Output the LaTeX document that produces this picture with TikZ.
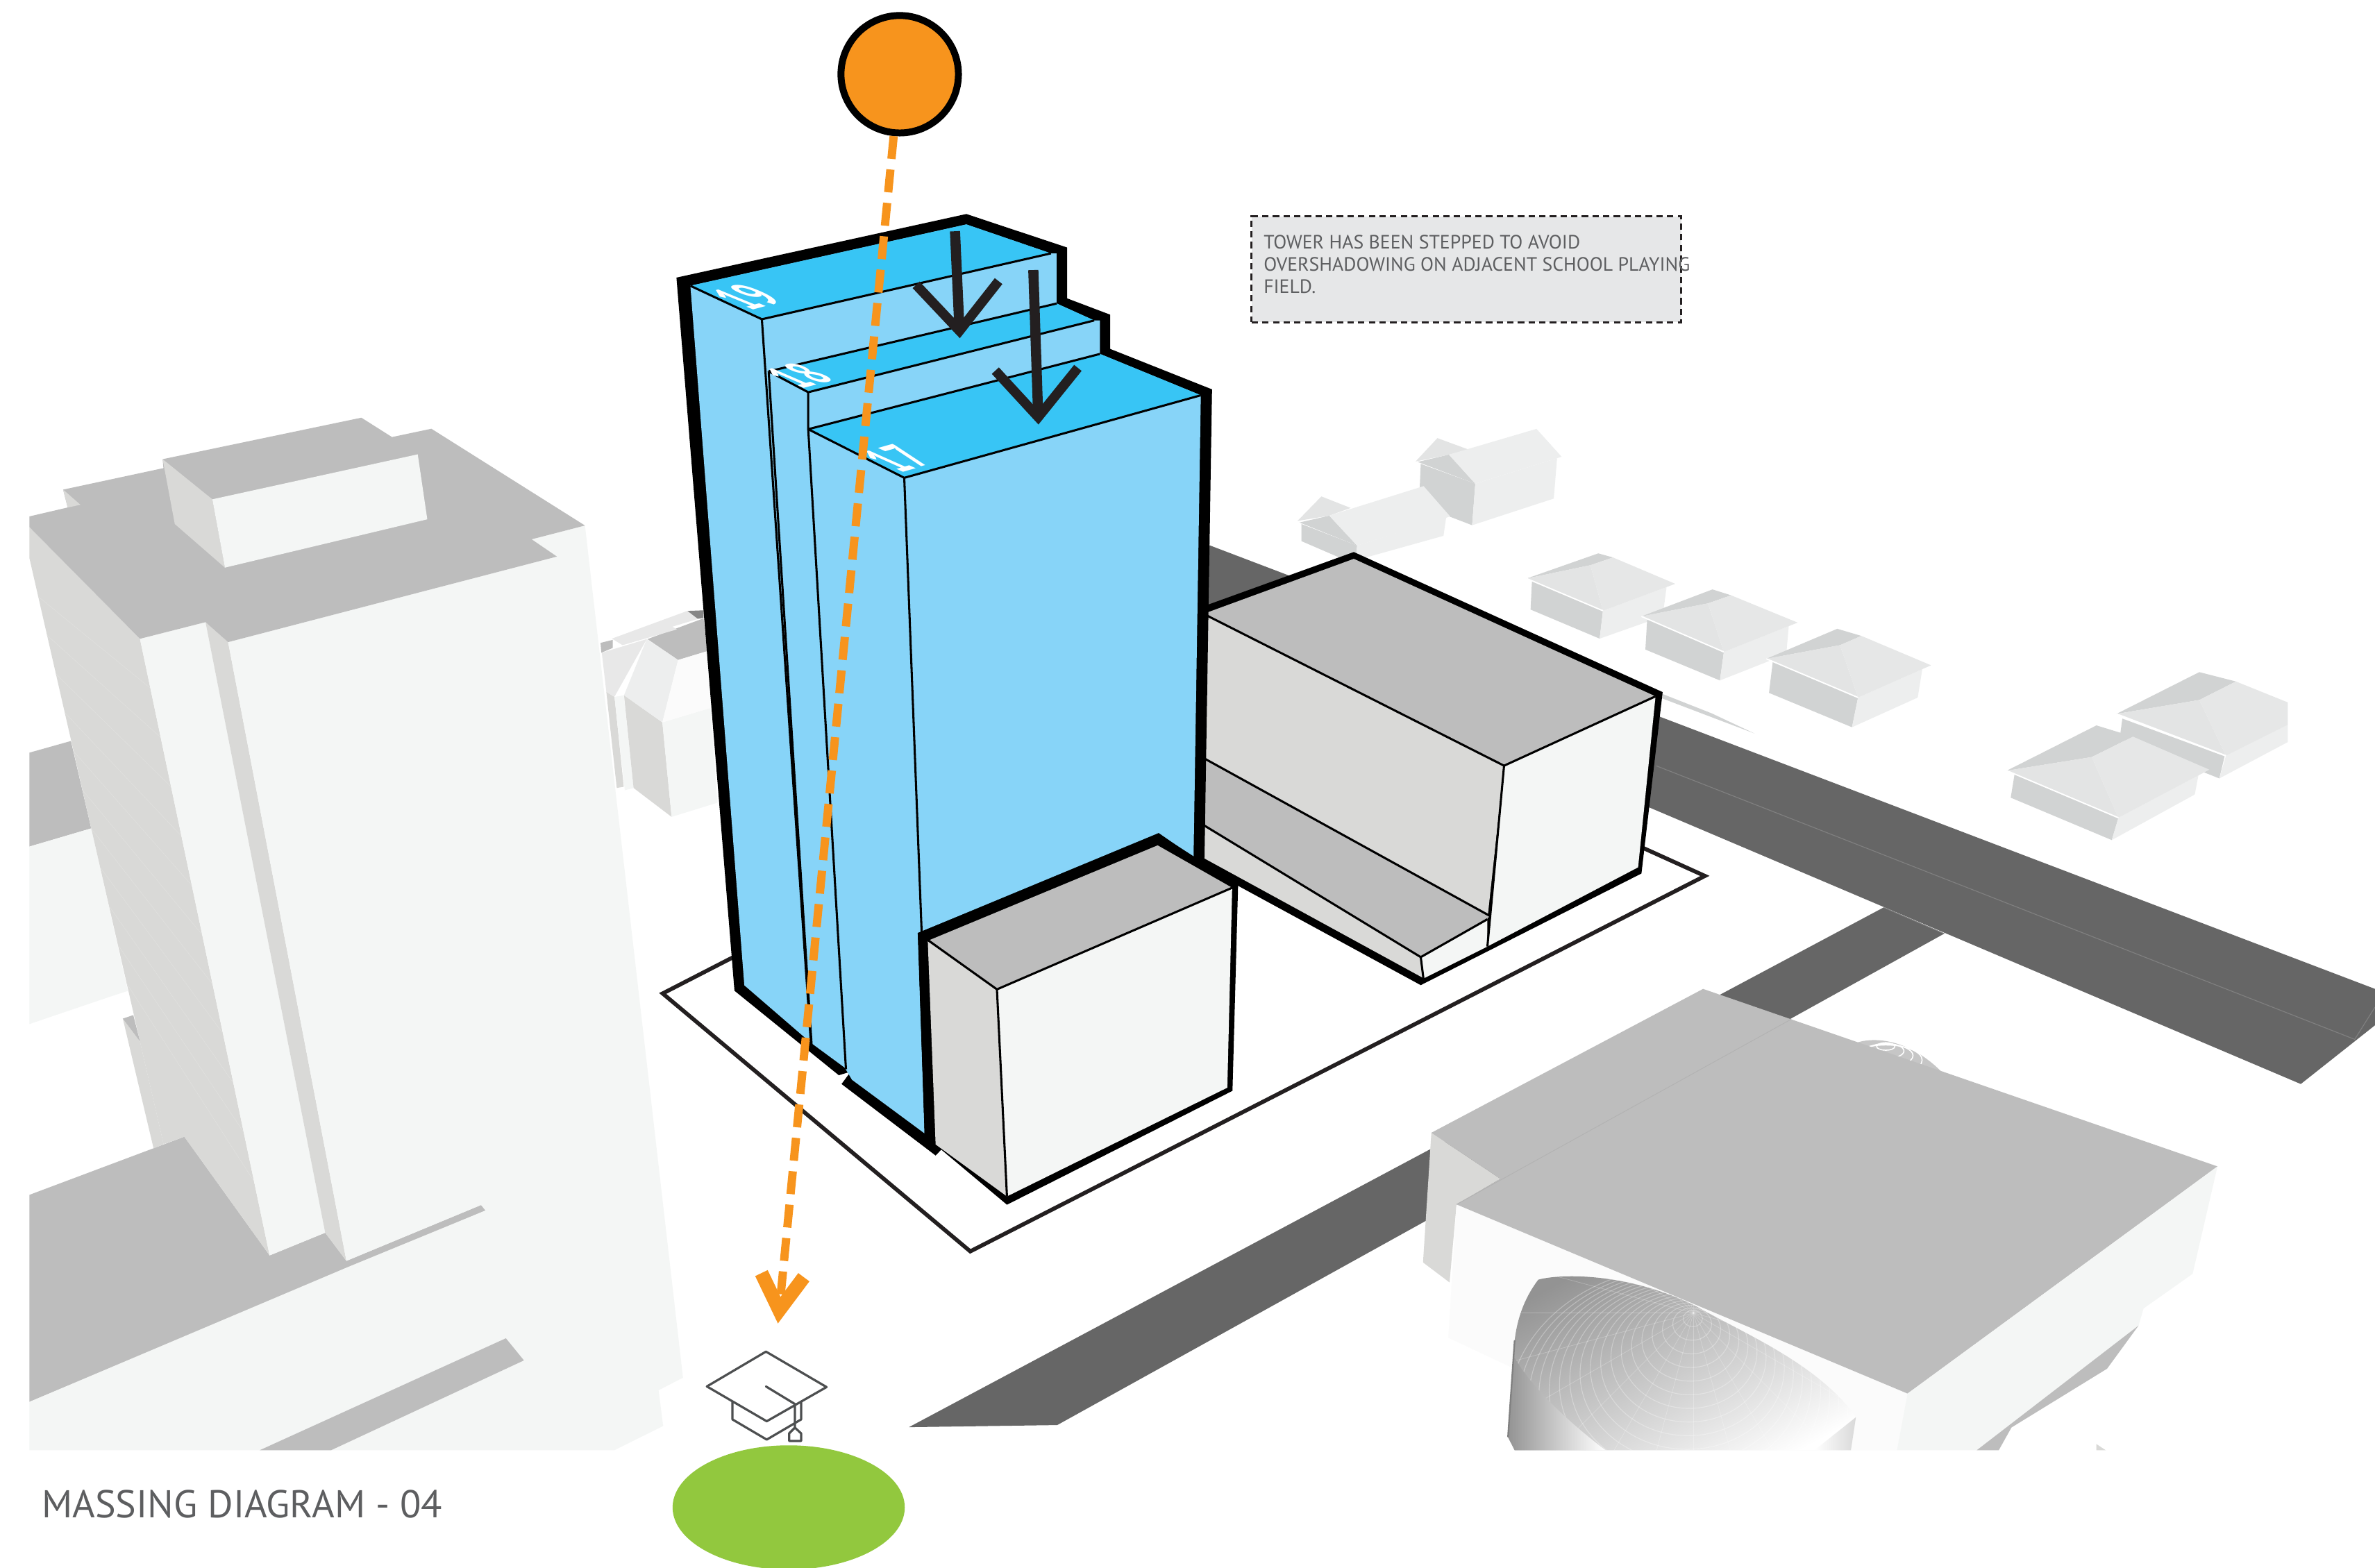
\documentclass[tikz,border=0pt]{standalone}
\usepackage{fontspec}
\setmainfont{PT Sans}
\usetikzlibrary{arrows.meta,shapes.geometric,calc}
\definecolor{towerroof}{RGB}{56,197,245}
\definecolor{towerface}{RGB}{135,212,248}
\definecolor{massroof}{RGB}{189,189,189}
\definecolor{masswall}{RGB}{217,217,215}
\definecolor{masslight}{RGB}{244,246,245}
\definecolor{frontwhite}{RGB}{251,251,251}
\definecolor{roadgrey}{RGB}{102,102,102}
\definecolor{sunorange}{RGB}{247,148,29}
\definecolor{fieldgreen}{RGB}{146,200,62}
\definecolor{notegrey}{RGB}{230,231,232}
\definecolor{notetext}{RGB}{93,94,96}
\definecolor{capgrey}{RGB}{77,79,80}
\definecolor{arrowblack}{RGB}{35,31,32}
\definecolor{houseleft}{RGB}{209,211,211}
\definecolor{houseright}{RGB}{237,238,238}
\definecolor{hiproofa}{RGB}{227,228,228}
\definecolor{hiproofb}{RGB}{230,231,231}
\tikzset{
  thinedge/.style={draw=black,line width=0.4pt,line join=round},
  plotline/.style={draw=arrowblack,line width=0.75pt,line join=miter},
  downarrow/.style={draw=arrowblack,line width=1.9pt,
    -{Straight Barb[length=9pt,width=15.5pt,line width=1.8pt]}},
  roofnum/.style={text=white,inner sep=0pt,font=\bfseries\fontsize{10}{12}\selectfont},
}
% left, top, back, ridge, right, front, then the wall feet: left, front, right
\newcommand{\hiphouse}[9]{
  \fill[houseleft] ($#6!0.93!#1$) -- #6 -- #8 -- #7 -- cycle;
  \fill[houseright] #6 -- ($#6!0.88!#5$) -- #9 -- #8 -- cycle;
  \fill[houseleft] #1 -- #2 -- #3 -- #4 -- cycle;
  \fill[hiproofa] #1 -- #4 -- #6 -- cycle;
  \fill[hiproofb] #4 -- #3 -- #5 -- #6 -- cycle;
  \draw[white,line width=0.25pt] #1 -- #6;
}
\begin{document}
\begin{tikzpicture}[x=0.01cm,y=-0.01cm]
  \fill[white] (0,0) rectangle (1568,1035);
  \useasboundingbox (0,0) rectangle (1568,1035);

  % roads
  \fill[roadgrey] (780,353) -- (1568,653) -- (1568,677) -- (1519,715.8) -- (780,402) -- cycle;
  \fill[roadgrey] (600.1,942.4) -- (1243.6,599.2) -- (1283.6,616.5) -- (698,941) -- cycle;
  \draw[gray,line width=0.15pt] (1093.5,505.7) -- (1554.6,686.3) -- (1568,665);
  \draw[gray,line width=0.15pt] (1243.6,599.2) -- (1283.6,616.5);
  \fill[massroof] (19.4,497) -- (46.8,489.3) -- (60.2,547) -- (19.4,559) -- cycle;
  \fill[masslight] (19.4,559) -- (60.2,547) -- (84.4,654.3) -- (73,658) -- (19.4,676.2) -- cycle;

  % house behind the left block
  \fill[masswall] (400.3,456.8) -- (405.7,460.2) -- (411.8,519.5) -- (407.2,520.3) -- cycle;
  \fill[masslight] (405.7,460.2) -- (411.8,459.1) -- (418.3,520.3) -- (412.5,521.8) -- cycle;
  \fill[masswall] (412,459.1) -- (437.3,477) -- (443.4,539.4) -- (418.3,520.3) -- cycle;
  \fill[masslight] (437.3,477) -- (469,467.5) -- (473.7,530) -- (443.4,539.4) -- cycle;
  \fill[massroof] (396.5,424.5) -- (404.6,422.5) -- (404.6,427.8) -- (397,431) -- cycle;
  \fill[gray!95] (453.8,403.4) -- (464.5,403) -- (464.5,408) -- (460,408.7) -- cycle;
  \fill[massroof] (427.5,422) -- (464.5,408.3) -- (466.8,430) -- (447.7,435.8) -- cycle;
  \fill[gray!18] (404,421.7) -- (453.8,403.4) -- (460.7,408.7) -- (443.9,413.8) -- (446.9,415.6) -- (411,426) -- cycle;
  \fill[gray!18] (397.3,431) -- (427,422) -- (405.7,460) -- (400.3,456.8) -- cycle;
  \fill[houseright] (427,422) -- (447.7,435.8) -- (437.3,477) -- (412,459.1) -- cycle;
  \fill[frontwhite] (447.7,435.8) -- (466.8,430) -- (469,467.5) -- (437.3,477) -- cycle;

  % houses at the back
  \fill[houseleft] (938,306.3) -- (974,319.4) -- (971.9,346.8) -- (936.8,333.3) -- cycle;
  \fill[houseright] (974,319.4) -- (1028,302.6) -- (1025.8,329.2) -- (971.9,346.8) -- cycle;
  \fill[hiproofa] (934.6,304.7) -- (949,289.3) -- (969.7,296.9) -- (956.6,300.2) -- cycle;
  \fill[houseleft] (936,305) -- (956.6,300.2) -- (974,319.4) -- cycle;
  \fill[houseright] (956.6,300.2) -- (1014.4,283.2) -- (1031,301.6) -- (974,319.4) -- cycle;
  \fill[houseleft] (859.2,346) -- (896,360.3) -- (895,370) -- (884,368) -- (859.2,357.3) -- cycle;
  \fill[houseright] (896,360.3) -- (954.8,341.5) -- (953,353.8) -- (895,370) -- cycle;
  \fill[hiproofa] (856.6,344) -- (872.4,327.8) -- (891.7,335.4) -- (877.6,340.5) -- cycle;
  \fill[houseleft] (858,345) -- (877.6,340.5) -- (896,360.3) -- cycle;
  \fill[houseright] (877.6,340.5) -- (939.9,321) -- (957.4,341) -- (896,360.3) -- cycle;
  \hiphouse{(1007.9,382)}{(1055.2,365.4)}{(1064.9,368.1)}{(1050,373.2)}{(1106,385.5)}{(1058.3,403.3)}{(1010.5,402.5)}{(1056.1,421.7)}{(1097.7,407)}
  \hiphouse{(1083.7,407)}{(1130.6,389.2)}{(1142.9,393.1)}{(1127.6,398.4)}{(1186.8,411.1)}{(1138.1,430.5)}{(1086.3,428.9)}{(1135.5,449.3)}{(1179.3,432)}
  \hiphouse{(1166.2,435)}{(1213,415.2)}{(1228.9,419.9)}{(1214.8,426)}{(1274.9,439.3)}{(1226.7,460.6)}{(1167.9,457.5)}{(1222.7,480.2)}{(1266.1,460.6)}
  \fill[houseleft] (1097,458) -- (1130,471) -- (1158.3,484.3) -- (1097,461) -- cycle;

  % far right pair of houses
  \fill[houseleft] (1401.2,474.5) -- (1468.7,499.4) -- (1465.2,514) -- (1399.4,487.8) -- cycle;
  \fill[houseright] (1469.6,499) -- (1510.4,478.6) -- (1510.4,490) -- (1465.2,514) -- cycle;
  \fill[houseleft] (1397.3,471.4) -- (1452,443.8) -- (1476.2,450) -- (1452,462.2) -- cycle;
  \fill[hiproofa] (1397.3,471.4) -- (1452,462.2) -- (1469.6,499) -- cycle;
  \fill[hiproofb] (1452,462.2) -- (1476.2,450) -- (1510.4,463.8) -- (1510.4,478.6) -- (1469.6,499) -- cycle;
  \draw[white,line width=0.25pt] (1397.3,471.4) -- (1469.6,499);
  \hiphouse{(1324.9,508.9)}{(1384.1,479)}{(1408.2,486.4)}{(1381,499.9)}{(1458.6,508.2)}{(1398.6,540)}{(1327.5,526.7)}{(1394.2,554.7)}{(1449,524.6)}

  % site boundary
  \draw[plotline] (490,629) -- (437.5,656) -- (640.6,826.3) -- (1125.6,578.4) -- (1085,560);

  % podium on the right
  \fill[black] (790,402) -- (893.8,364.5) -- (1097.7,457) -- (1083.7,576.8) -- (938,650.5) -- (790,570) -- cycle;
  \fill[massroof] (790,407) -- (893.8,369) -- (1093,459.8) -- (993,505.6) -- cycle;
  \fill[masswall] (790,403) -- (993,505.6) -- (982,607) -- (790,498) -- cycle;
  \fill[massroof] (790,498) -- (984,605) -- (938,632) -- (790,542) -- cycle;
  \fill[masswall] (790,542) -- (938,632) -- (940,646) -- (790,564) -- cycle;
  \fill[masslight] (938,632) -- (982,607) -- (982,625) -- (940,646) -- cycle;
  \fill[masslight] (993,505.6) -- (1093,459.8) -- (1081.5,572.7) -- (982,625) -- cycle;
  \draw[thinedge] (790,403) -- (993,505.6) -- (1093,459.8);
  \draw[thinedge] (993,505.6) -- (982,625);
  \draw[thinedge] (790,498) -- (984,605);
  \draw[thinedge] (790,542) -- (938,632) -- (982,607);
  \draw[thinedge] (938,632) -- (940,648);

  % stepped tower
  \fill[black] (446.6,183.3) -- (638,141.3) -- (704.5,163.4) -- (704.5,197) -- (733,207.8) -- (733,230.4) -- (800.2,257.1) -- (795,580) -- (617.7,763) -- (555.6,715.8) -- (561.7,707.6) -- (553.8,710) -- (484.9,654.2) -- cycle;
  \fill[towerface] (455.8,188.7) -- (638,148.2) -- (693.8,167.3) -- (697.6,167.3) -- (697.6,200.4) -- (722.4,211.6) -- (726.2,211.6) -- (726.2,233.7) -- (792.8,261) -- (788,566) -- (765,550) -- (606,616) -- (610.4,748.4) -- (562.5,713) -- (557.7,705) -- (535.4,688.6) -- (491.4,650.6) -- cycle;
  \fill[towerroof] (455.8,188.7) -- (638,148.2) -- (693.8,167.3) -- (503,210.8) -- cycle;
  \fill[towerroof] (507.5,245.2) -- (697.6,200.4) -- (722.4,211.6) -- (533.6,259) -- cycle;
  \fill[towerroof] (533.6,283.4) -- (726.2,233.7) -- (792.8,261) -- (597,315.5) -- cycle;
  \draw[thinedge] (455.8,188.7) -- (503,210.8) -- (693.8,167.3);
  \draw[thinedge] (507.5,245.2) -- (533.6,259) -- (722.4,211.6);
  \draw[thinedge] (507.5,245.2) -- (697.6,200.4);
  \draw[thinedge] (533.6,283.4) -- (597,315.5) -- (792.8,261);
  \draw[thinedge] (533.6,283.4) -- (726.2,233.7);
  \draw[thinedge] (503,210.8) -- (535.4,689.5);
  \draw[thinedge] (507.5,245.2) -- (535.8,689.5);
  \draw[thinedge] (533.6,259) -- (533.6,283.4) -- (558.5,706);
  \draw[thinedge] (597,315.5) -- (608.5,616);
  \node[roofnum,cm={.6,.16,-1.14,.468,(0,0)}] (num19) at (493,196) {19};
  \node[roofnum,cm={.6,.16,-1.06,.46,(0,0)}] (num18) at (527.4,248) {18};
  \node[roofnum,cm={.6,.17,-1.12,.5,(0,0)}] (num17) at (592,302.5) {17};

  % low block in front of the tower
  \fill[black] (605.9,616.1) -- (765.6,551) -- (817.4,584.4) -- (813.7,720.3) -- (664.8,795.5) -- (617.7,756) -- (617.7,763) -- (610.4,748.4) -- cycle;
  \fill[massroof] (613.8,620.7) -- (764.3,558.2) -- (813.5,586.2) -- (658.2,653.3) -- cycle;
  \fill[masswall] (612.5,620.7) -- (658.2,653.3) -- (664.8,790) -- (617.7,755.7) -- cycle;
  \fill[masslight] (658.2,653.3) -- (813.5,586.2) -- (810.3,718.2) -- (664.8,790) -- cycle;
  \draw[thinedge] (612.5,620.7) -- (658.2,653.3) -- (813.5,586.2);
  \draw[thinedge] (658.2,653.3) -- (664.8,790);

  % tall block on the left
  \fill[massroof] (19.4,789) -- (121.7,750.6) -- (178,829) -- (214.7,814) -- (228.7,832.6) -- (317.6,795.7) -- (320.6,799.3) -- (19.4,925.7) -- cycle;
  \fill[masswall] (19.4,348) -- (92.4,421.8) -- (178,829) -- (121.7,750.6) -- (108,755.5) -- (92.4,687.6) -- (19.4,368.4) -- cycle;
  \fill[masswall] (81.1,672.6) -- (92.4,687.6) -- (108,755.5) -- (101.4,758.3) -- cycle;
  \fill[massroof] (81.1,672.6) -- (88,670.3) -- (92.4,687.6) -- cycle;
  \foreach \t in {0.08,0.16,...,0.96}{
    \draw[white!18!masswall,line width=0.08pt] ($(19.4,368.4)!\t!(92.4,687.6)$) -- ($(92.4,421.8)!\t!(178,829)$);}
  \fill[masslight] (92.4,421.8) -- (135.7,410.8) -- (214.7,814) -- (178,829) -- cycle;
  \fill[masswall] (135.7,410.8) -- (150.6,424) -- (228.7,832.6) -- (214.7,814) -- cycle;
  \fill[masslight] (150.6,424) -- (367.7,367.5) -- (351,356.1) -- (386.2,347) -- (450.9,909.7) -- (434.8,918) -- (437.8,941.6) -- (405.6,957.6) -- (19.4,957.6) -- (19.4,925.7) -- (229.6,836.7) -- (320.6,799.3) -- (317.6,795.7) -- (228.7,832.6) -- cycle;
  \fill[massroof] (171.5,957.6) -- (334,883.7) -- (345.9,898.3) -- (218.6,957.6) -- cycle;
  \fill[massroof] (19.4,341) -- (44.7,335.1) -- (41.7,323.3) -- (107.9,309.1) -- (107.4,303.2) -- (238.6,275.8) -- (258.8,288.6) -- (284.8,283.1) -- (386.2,347) -- (351,356.1) -- (367.7,367.5) -- (150.6,424) -- (135.7,410.8) -- (92.4,421.8) -- (19.4,348) -- cycle;
  \fill[masswall] (41.7,323.3) -- (53.1,333.3) -- (44.7,335.1) -- cycle;
  \fill[masswall] (107.4,303.2) -- (140.2,329.7) -- (148.5,374.8) -- (115.4,346) -- cycle;
  \fill[masslight] (140.2,329.7) -- (275.8,300) -- (282.1,342.9) -- (148.5,374.8) -- cycle;

  % domed hall and its roof
  \fill[gray!45] (1226.2,688.4) .. controls (1240,684) and (1262,688) .. (1281.4,707.3) -- (1250,715) -- cycle;
  \foreach \k in {1,...,4}{
    \draw[white,line width=0.2pt] (1245,{688+\k*3}) ellipse [x radius=\k*6,y radius=\k*2.5];}
  \fill[masswall] (945,748) -- (990.6,778.4) -- (961.6,795.3) -- (957,846.8) -- (939.5,833.6) -- cycle;
  \fill[frontwhite] (961.6,795.3) -- (1259.4,920.2) -- (1252.4,957.6) -- (1000,957.6) -- (999.8,903.8) -- (956.2,883.3) -- cycle;
  \begin{scope}
    \clip (1015.6,845) .. controls (1030,841) and (1075,840) .. (1120.3,862.8) .. controls (1150,880) and (1200,900) .. (1225.3,935.8) -- (1222,957.6) -- (1000,957.6) -- (995.6,949) -- (1000,885) .. controls (1002,868) and (1008,855) .. (1015.6,845) -- cycle;
    \shade[top color=gray!85,middle color=gray!18,bottom color=white,shading angle=28] (985,835) rectangle (1240,965);
    \foreach \k in {1,...,18}{
      \draw[white,line width=0.15pt,opacity=0.3] ({1118-0.4*\k},{867+3.65*\k}) ellipse [x radius=\k*6.4,y radius=\k*5.35];}
    \foreach \a in {0,15,...,345}{
      \draw[white,line width=0.1pt,opacity=0.25] (1118,867) -- ++(\a:260);}
    \shade[left color=gray!85,right color=white] (995,885) .. controls (1000,905) and (1030,935) .. (1060,957.6) -- (995,957.6) -- cycle;
    \shade[left color=white,right color=gray!30] (1198,957.6) -- (1225.3,935.8) -- (1225,957.6) -- cycle;
  \end{scope}
  \draw[gray,line width=0.3pt] (1000,885) -- (995.6,949);
  \fill[massroof] (945,748) -- (1124.4,653) -- (1464,770.2) -- (1259.4,920.2) -- (961.6,795.3) -- (990.6,778.4) -- cycle;
  \draw[gray!60,line width=0.12pt] (961.6,795.3) -- (1182.6,673);
  \fill[masslight] (1259.4,920.2) -- (1464,770.2) -- (1447.6,841.1) -- (1415.2,864) -- (1411.9,875.3) -- (1305.1,957.6) -- (1252.4,957.6) -- cycle;
  \fill[massroof] (1411.9,875.3) -- (1391.1,903.8) -- (1328,942.6) -- (1319.6,957.6) -- (1305.1,957.6) -- cycle;
  \fill[masswall] (1384,953.5) -- (1390.2,957.6) -- (1384,957.6) -- cycle;

  % note
  \node[rectangle,draw=arrowblack,fill=notegrey,line width=0.35pt,dash pattern=on 1.2pt off 0.8pt,
        minimum width=2.834cm,minimum height=0.70cm,inner sep=0pt] (notebox) at (968.1,177.8) {};
  \node[anchor=north west,inner sep=0pt,align=left,text=notetext,font=\fontsize{3.62}{4.18}\selectfont]
       (notelabel) at (833.6,154.4) {TOWER HAS BEEN STEPPED TO AVOID\\OVERSHADOWING ON ADJACENT SCHOOL PLAYING\\FIELD.};

  % sun, playing field, cap
  \node[circle,draw=black,fill=sunorange,line width=1.3pt,minimum size=0.775cm,inner sep=0pt] (sun) at (594,49) {};
  \node[ellipse,fill=fieldgreen,minimum width=1.532cm,minimum height=0.82cm,inner sep=0pt] (field) at (520.7,995.4) {};
  \coordinate (shadowend) at (513.6,873.9);
  \draw[sunorange,line width=1.55pt,dash pattern=on 4.3pt off 2pt,
        -{Straight Barb[length=6.6pt,width=8pt,line width=2.6pt]}] (sun) -- (shadowend);
  \coordinate (arrowatop) at (630.5,152.7);
  \coordinate (arrowatip) at (633.7,223.3);
  \coordinate (arrowbtop) at (682.2,178.3);
  \coordinate (arrowbtip) at (685.6,280.3);
  \draw[downarrow] (arrowatop) -- (arrowatip);
  \draw[downarrow] (arrowbtop) -- (arrowbtip);
  \draw[capgrey,line width=0.42pt,line join=round,line cap=round] (505.7,892.5) -- (545.7,915.9) -- (506.2,938.5) -- (466.7,915.5) -- cycle
       (483.6,925.8) -- (483.6,937.3) -- (506.2,950.6) -- (528.9,937.3) -- (528.9,925.8)
       (505.7,915.5) -- (524.8,927.1) -- (524.8,942.7)
       (521,951.5) -- (521,946.5) -- (524.8,942.7) -- (528.9,946.5) -- (528.9,951.5) -- cycle;

  % title
  \node[anchor=base west,inner sep=0pt,text=notetext,font=\fontsize{7.28}{9}\selectfont] (title) at (27,1002) {MASSING DIAGRAM - 04};
\end{tikzpicture}
\end{document}
